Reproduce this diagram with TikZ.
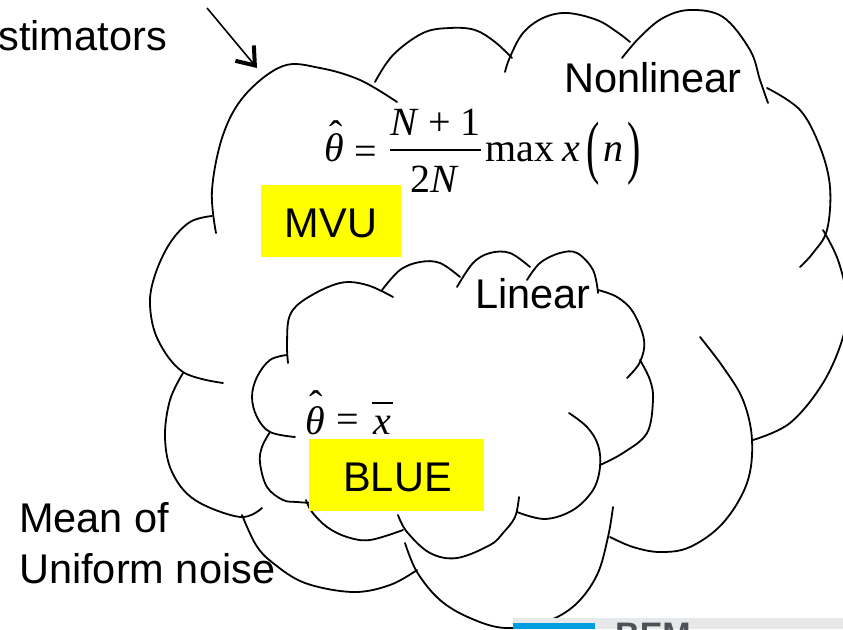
\documentclass[tikz,border=0pt]{standalone}
\usepackage{fontspec}
\setmainfont{Liberation Sans}
\newfontfamily\tnr{Liberation Serif}
\usepackage{graphicx}
\usetikzlibrary{arrows.meta}
\definecolor{hl}{RGB}{255,255,0}
\definecolor{bandgrey}{RGB}{231,232,233}
\definecolor{bandblue}{RGB}{0,157,224}
\definecolor{bemgrey}{RGB}{77,82,88}
\tikzset{
  cloudline/.style={line width=1.8pt, line cap=round, line join=round},
  lbl/.style={inner sep=0pt, font=\fontsize{41.5}{50}\selectfont},
  mth/.style={inner sep=0pt, font=\fontsize{40}{48}\selectfont\tnr},
  hlbox/.style={fill=hl, draw=none, inner sep=0pt},
}
\begin{document}
\begin{tikzpicture}[x=1pt,y=-1pt]
\useasboundingbox (0,0) rectangle (843,629);
\begin{scope}
\clip (0,0) rectangle (843,629);
\fill[white] (0,0) rectangle (843,629);
% ---------- outer cloud ----------
\draw[cloudline] plot[smooth,tension=0.6] coordinates {(216,233)(212,190)(223,135)(245,95)(283,66)(320,68)(360,80)(397,102)};
\draw[cloudline] plot[smooth,tension=0.6] coordinates {(212,216)(190,222)(170,243)(155,275)(150,305)(158,340)(183,372)(223,383)};
\draw[cloudline] plot[smooth,tension=0.6] coordinates {(183,373)(170,400)(165,437)(172,472)(195,500)(240,517)(262,508)};
\draw[cloudline] plot[smooth,tension=0.6] coordinates {(242,515)(256,545)(273,563)(305,583)(353,592)(390,585)(417,570)};
\draw[cloudline] plot[smooth,tension=0.6] coordinates {(405,543)(417,572)(440,600)(470,618)(505,628)(545,622)(575,605)(597,575)(608,537)(613,507)};
\draw[cloudline] plot[smooth,tension=0.6] coordinates {(700,337)(723,367)(743,400)(752,440)(747,483)(723,523)(690,547)(660,552)(633,547)(610,537)};
\draw[cloudline] plot[smooth,tension=0.6] coordinates {(823,230)(838,260)(847,300)(843,337)(823,383)(790,423)(753,440)};
\draw[cloudline] plot[smooth,tension=0.6] coordinates {(767,88)(800,110)(820,147)(830,187)(827,230)(813,253)(800,267)};
\draw[cloudline] plot[smooth,tension=0.6] coordinates {(622,58)(640,37)(663,18)(690,10)(723,17)(750,50)(760,80)(768,103)};
\draw[cloudline] plot[smooth,tension=0.6] coordinates {(505,72)(510,57)(523,33)(543,18)(567,13)(597,20)(617,32)(630,42)};
\draw[cloudline] plot[smooth,tension=0.6] coordinates {(375,82)(393,55)(423,33)(450,28)(475,30)(495,42)(512,58)};
% ---------- inner cloud ----------
\draw[cloudline] plot[smooth,tension=0.6] coordinates {(288,363)(287,343)(290,315)(307,298)(340,283)(367,285)(393,297)};
\draw[cloudline] plot[smooth,tension=0.6] coordinates {(382,290)(400,270)(420,262)(440,263)(460,277)};
\draw[cloudline] plot[smooth,tension=0.6] coordinates {(457,287)(473,263)(490,253)(510,253)(530,267)};
\draw[cloudline] plot[smooth,tension=0.6] coordinates {(527,280)(540,263)(560,253)(577,253)(593,270)(598,293)};
\draw[cloudline] plot[smooth,tension=0.6] coordinates {(598,290)(617,297)(633,312)(644,340)(640,362)(627,378)};
\draw[cloudline] plot[smooth,tension=0.6] coordinates {(640,360)(650,380)(653,400)(647,433)(623,453)(600,465)};
\draw[cloudline] plot[smooth,tension=0.6] coordinates {(569,413)(587,427)(598,445)(600,467)(593,490)(573,510)(545,519)(517,512)};
\draw[cloudline] plot[smooth,tension=0.6] coordinates {(519,497)(515,517)(503,533)(490,545)(457,558)(430,553)(407,532)(398,515)};
\draw[cloudline] plot[smooth,tension=0.6] coordinates {(306,500)(312,512)(327,527)(347,537)(370,540)(403,530)};
\draw[cloudline] plot[smooth,tension=0.6] coordinates {(270,432)(262,447)(260,463)(267,487)(283,500)(297,502)(312,503)};
\draw[cloudline] plot[smooth,tension=0.6] coordinates {(287,355)(270,360)(257,377)(252,397)(257,417)(270,432)(295,437)};
% ---------- highlight boxes ----------
\node[hlbox, minimum width=140pt, minimum height=72pt] (mvubox) at (331,221) {};
\node[hlbox, minimum width=175pt, minimum height=72pt] (bluebox) at (396.5,475) {};
\node[lbl] (mvu) at (331,223) {MVU};
\node[lbl] (blue) at (397.5,477) {BLUE};
% ---------- labels ----------
\node[lbl, anchor=base east] (est) at (167,50) {Estimators};
\node[lbl, anchor=base west] (nonlin) at (564,92) {Nonlinear};
\node[lbl, anchor=base west] (lin) at (475,308) {Linear};
\node[lbl, anchor=base west] (meanof) at (19,532) {Mean of};
\node[lbl, anchor=base west] (unif) at (19,583) {Uniform noise};
% ---------- formula 1 ----------
\node[mth, anchor=base] (th1) at (334,161) {\itshape θ};
\node[mth, anchor=base] (hat1) at (336,148) {ˆ};
\node[mth, anchor=base] (eq1) at (366,164) {=};
\node[mth, anchor=base] (num1) at (436,135) {\itshape N\upshape\hspace{0.26em}+\hspace{0.26em}1};
\draw[line width=1.5pt] (390,150) -- (481,150);
\node[mth, anchor=base] (den1) at (433.5,192) {2\itshape N};
\node[mth, anchor=base west] (max1) at (485,161) {max};
\node[mth, anchor=base west] (x1) at (562,161) {\itshape x};
\node[mth] (lp1) at (593.5,153.5) {\scalebox{1}[1.75]{(}};
\node[mth, anchor=base west] (n1) at (603,161) {\itshape n};
\node[mth] (rp1) at (634,153.5) {\scalebox{1}[1.75]{)}};
% ---------- formula 2 ----------
\node[mth, anchor=base] (th2) at (315,434) {\itshape θ};
\node[mth, anchor=base] (hat2) at (316,418) {ˆ};
\node[mth, anchor=base] (eq2) at (347.5,432) {=};
\node[mth, anchor=base] (x2) at (382,434) {\itshape x};
\draw[line width=1.4pt] (372,403) -- (393,403);
% ---------- arrow ----------
\coordinate (arrS) at (207,8);
\coordinate (arrE) at (257,68);
\draw[line width=1.6pt, -{Straight Barb[length=16pt,width=24pt,line width=4pt]}] (arrS) -- (arrE);
% ---------- footer band ----------
\fill[bandgrey] (513,618) rectangle (843,629);
\fill[bandblue] (513,623) rectangle (595,629);
\node[font=\fontsize{34}{40}\selectfont\bfseries, text=bemgrey, anchor=north west, inner sep=0pt] (bem) at (615,623) {BEM};
\end{scope}
\end{tikzpicture}
\end{document}
